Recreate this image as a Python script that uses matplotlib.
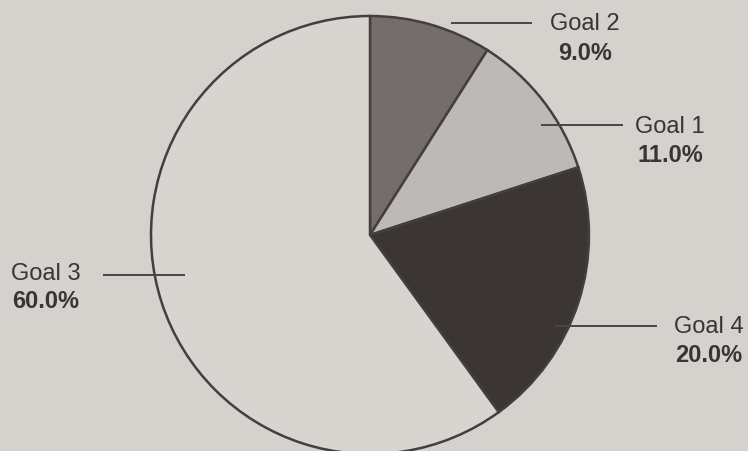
import numpy as np
import matplotlib
matplotlib.use("Agg")
import matplotlib.pyplot as plt

# Goal shares, listed clockwise from 12 o'clock
goals = ["Goal 2", "Goal 1", "Goal 4", "Goal 3"]
shares = [9.0, 11.0, 20.0, 60.0]
colors = ["#746d6c", "#bdb9b6", "#3b3535", "#d8d4d0"]

W, H = 748, 451
BG = "#d5d1cd"
INK = "#3a3434"

fig = plt.figure(figsize=(W / 100, H / 100), dpi=100, facecolor=BG)
ax = fig.add_axes([0, 0, 1, 1])
ax.set_facecolor(BG)

cx, cy, r = 370, H - 235, 219
ax.pie(shares, colors=colors, startangle=90, counterclock=False,
       center=(cx, cy), radius=r,
       wedgeprops=dict(edgecolor="#453e3e", linewidth=1.8))

ax.set_xlim(0, W)
ax.set_ylim(0, H)
ax.set_aspect("equal")
ax.axis("off")

# label layout: (leader x0, x1, leader y, text centre x, name baseline, pct baseline)
layout = {
    "Goal 2": (451, 532, 23, 585, 30, 60.5),
    "Goal 1": (541, 623, 125, 670, 133, 162),
    "Goal 3": (103, 185, 275, 46, 280, 308),
    "Goal 4": (555, 657, 326, 709, 333, 362),
}

for name, val in zip(goals, shares):
    x0, x1, ly, tx, nb, pb = layout[name]
    ax.plot([x0, x1], [H - ly, H - ly], color="#4a4444", lw=1.4,
            solid_capstyle="butt")
    ax.text(tx, H - nb, name, ha="center", va="baseline", fontsize=17,
            family="Liberation Sans", color=INK)
    ax.text(tx, H - pb, f"{val:.1f}%", ha="center", va="baseline",
            fontsize=17, fontweight="bold", family="Liberation Sans",
            color=INK)

fig.savefig("out.png", dpi=100, facecolor=BG)
